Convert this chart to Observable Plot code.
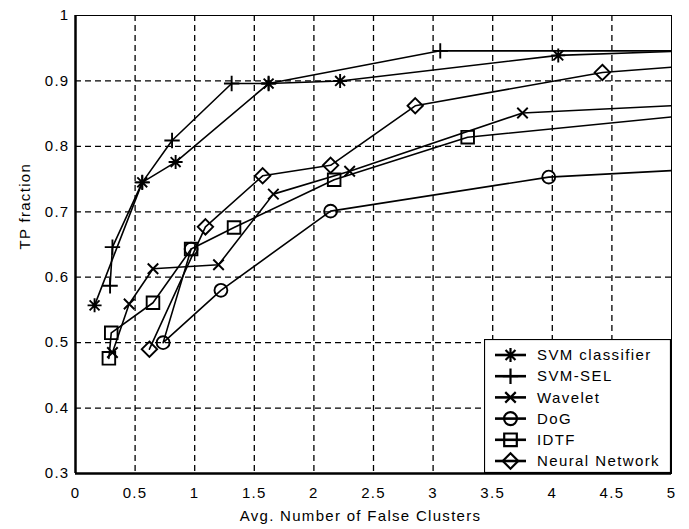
<!DOCTYPE html>
<html>
<head>
<meta charset="utf-8">
<script src="https://cdn.jsdelivr.net/npm/d3@7"></script>
<script src="https://cdn.jsdelivr.net/npm/@observablehq/plot@0.6"></script>
<style>
  body { margin: 0; background: white; }
  #wrap { position: relative; width: 689px; height: 529px; }
  #legend { position: absolute; left: 484px; top: 339px; }
</style>
</head>
<body>
<div id="wrap"></div>
<script>
// ---- data ----
const series = ["SVM classifier", "SVM-SEL", "Wavelet", "DoG", "IDTF", "Neural Network"];

const svmClsX = [0.16, 0.56, 0.84, 1.62, 2.22, 4.05];
const svmClsY = [0.557, 0.745, 0.776, 0.896, 0.900, 0.939];

const svmSelX = [0.29, 0.31, 0.56, 0.81, 1.31, 1.62, 3.06];
const svmSelY = [0.587, 0.646, 0.745, 0.809, 0.896, 0.896, 0.946];

const waveletX = [0.31, 0.45, 0.65, 1.20, 1.66, 2.30, 3.75];
const waveletY = [0.485, 0.559, 0.613, 0.619, 0.727, 0.762, 0.851];

const dogX = [0.97, 0.735, 1.22, 2.14, 3.97];
const dogY = [0.643, 0.500, 0.580, 0.701, 0.753];

const idtfX = [0.28, 0.30, 0.65, 0.97, 1.33, 2.17, 3.29];
const idtfY = [0.476, 0.515, 0.561, 0.643, 0.676, 0.749, 0.814];

const nnX = [0.62, 1.09, 1.57, 2.14, 2.85, 4.42];
const nnY = [0.490, 0.677, 0.755, 0.771, 0.862, 0.913];

// value of each curve where it meets the right edge (x = 5)
const edgeY = [0.945, 0.946, 0.862, 0.763, 0.845, 0.921];

const xDomain = [0, 5];
const yDomain = [0.3, 1];
const xTicks = [0, 0.5, 1, 1.5, 2, 2.5, 3, 3.5, 4, 4.5, 5];
const yTicks = [0.3, 0.4, 0.5, 0.6, 0.7, 0.8, 0.9, 1];
const xLabel = "Avg. Number of False Clusters";
const yLabel = "TP fraction";

// ---- symbols (MATLAB-like markers) ----
const H = s => Math.sqrt(s / Math.PI);
const symAsterisk = {draw(c, s) { const h = H(s), d = h * Math.SQRT1_2;
  c.moveTo(-h, 0); c.lineTo(h, 0); c.moveTo(0, -h); c.lineTo(0, h);
  c.moveTo(-d, -d); c.lineTo(d, d); c.moveTo(-d, d); c.lineTo(d, -d); }};
const symPlus = {draw(c, s) { const h = H(s) * 1.1;
  c.moveTo(-h, 0); c.lineTo(h, 0); c.moveTo(0, -h); c.lineTo(0, h); }};
const symTimes = {draw(c, s) { const h = H(s) * 0.75;
  c.moveTo(-h, -h); c.lineTo(h, h); c.moveTo(-h, h); c.lineTo(h, -h); }};
const symCircle = {draw(c, s) { const r = H(s) * 0.92;
  c.moveTo(r, 0); c.arc(0, 0, r, 0, 2 * Math.PI); c.closePath(); }};
const symSquare = {draw(c, s) { const h = H(s) * 0.9; c.rect(-h, -h, 2 * h, 2 * h); }};
const symDiamond = {draw(c, s) { const h = H(s) * 1.1;
  c.moveTo(0, -h); c.lineTo(h, 0); c.lineTo(0, h); c.lineTo(-h, 0); c.closePath(); }};

const symbols = [symAsterisk, symPlus, symTimes, symCircle, symSquare, symDiamond];
const xs = [svmClsX, svmSelX, waveletX, dogX, idtfX, nnX];
const ys = [svmClsY, svmSelY, waveletY, dogY, idtfY, nnY];

const pointRows = series.map((name, i) => xs[i].map((x, j) => ({series: name, x, y: ys[i][j]})));
const lineRows = series.flatMap((name, i) => [...pointRows[i], {series: name, x: xDomain[1], y: edgeY[i]}]);

const fmt = d => String(d);
const R = 7;

const chart = Plot.plot({
  width: 689,
  height: 529,
  marginLeft: 75,
  marginRight: 18,
  marginTop: 15,
  marginBottom: 56,
  x: {domain: xDomain},
  y: {domain: yDomain},
  style: {
    fontFamily: "'Liberation Sans', Arial, sans-serif",
    fontSize: "15px",
    letterSpacing: "1.3px",
    color: "black",
    background: "white",
    overflow: "visible"
  },
  marks: [
    Plot.gridX(xTicks.slice(1, -1), {stroke: "black", strokeOpacity: 1, strokeWidth: 1.3, strokeDasharray: "6,4"}),
    Plot.gridY(yTicks.slice(1, -1), {stroke: "black", strokeOpacity: 1, strokeWidth: 1.3, strokeDasharray: "6,4"}),
    Plot.frame({stroke: "black", strokeWidth: 1}),
    Plot.ruleX([xDomain[0]], {stroke: "black", strokeWidth: 2.5}),
    Plot.ruleY([yDomain[0]], {stroke: "black", strokeWidth: 2.5}),
    Plot.axisX(xTicks, {tickSize: 0, tickPadding: 14, tickFormat: fmt, label: null}),
    Plot.axisY(yTicks, {tickSize: 0, tickPadding: 6, tickFormat: fmt, label: null}),
    Plot.line(lineRows, {x: "x", y: "y", z: "series", stroke: "black", strokeWidth: 1.6, clip: true}),
    ...pointRows.map((rows, i) => Plot.dot(rows, {
      x: "x", y: "y", symbol: symbols[i], r: R, stroke: "black", strokeWidth: 1.9, fill: "none"
    })),
    Plot.text([xLabel], {text: d => d, frameAnchor: "bottom", dy: 47, dx: -13}),
    Plot.text([yLabel], {text: d => d, frameAnchor: "left", dx: -50, dy: 5, rotate: -90})
  ]
});

const wrap = document.getElementById("wrap");
wrap.appendChild(chart);

// ---- legend ----
const lw = 188, lh = 135;
const legend = d3.create("svg")
  .attr("id", "legend")
  .attr("width", lw)
  .attr("height", lh)
  .style("font-family", "'Liberation Sans', Arial, sans-serif")
  .style("font-size", "15px")
  .style("letter-spacing", "1.4px");
legend.append("rect")
  .attr("x", 0.5).attr("y", 0.5).attr("width", lw - 2).attr("height", lh - 2)
  .attr("fill", "white").attr("stroke", "black").attr("stroke-width", 1.2);
const rowY = i => 16 + i * 21.2;
series.forEach((name, i) => {
  const g = legend.append("g").attr("transform", `translate(0,${rowY(i)})`);
  g.append("line").attr("x1", 11).attr("x2", 42).attr("y1", 0).attr("y2", 0)
    .attr("stroke", "black").attr("stroke-width", 2.6);
  g.append("path")
    .attr("transform", "translate(26.5,0)")
    .attr("d", d3.symbol(symbols[i], Math.PI * R * R)())
    .attr("fill", "none").attr("stroke", "black").attr("stroke-width", 2.2);
  g.append("text").attr("x", 53).attr("y", 0).attr("dy", "0.35em")
    .attr("fill", "black").text(name);
});
wrap.appendChild(legend.node());
</script>
</body>
</html>
